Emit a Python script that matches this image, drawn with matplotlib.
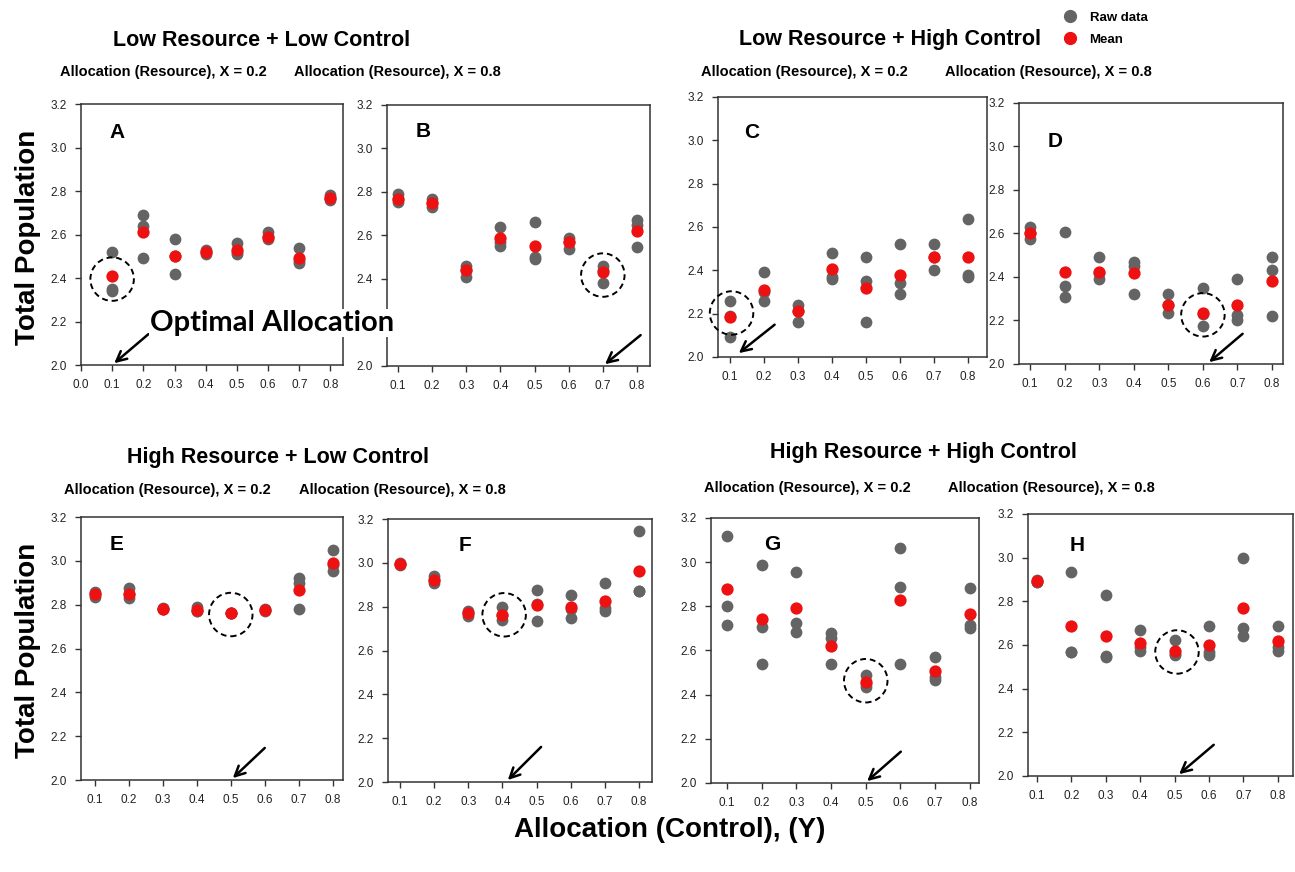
import numpy as np
import matplotlib
matplotlib.use("Agg")
import matplotlib.pyplot as plt
from matplotlib.lines import Line2D

plt.rcParams['font.family'] = ['Liberation Sans', 'DejaVu Sans']

# x levels: allocation to control (Y)
y_alloc = [0.1, 0.2, 0.3, 0.4, 0.5, 0.6, 0.7, 0.8]

# raw replicate values per Y level and their means
raw_A = [[2.52, 2.35, 2.34], [2.69, 2.64, 2.49], [2.58, 2.50, 2.42], [2.53, 2.51, 2.52],
         [2.56, 2.51, 2.52], [2.61, 2.58, 2.59], [2.54, 2.47, 2.48], [2.78, 2.76, 2.77]]
mean_A = [2.41, 2.61, 2.50, 2.52, 2.53, 2.59, 2.49, 2.77]

raw_B = [[2.79, 2.755, 2.77], [2.77, 2.73, 2.75], [2.46, 2.41, 2.44], [2.64, 2.55, 2.57],
         [2.66, 2.50, 2.49], [2.59, 2.54, 2.57], [2.46, 2.38, 2.44], [2.67, 2.65, 2.545]]
mean_B = [2.77, 2.75, 2.44, 2.59, 2.55, 2.57, 2.43, 2.62]

raw_C = [[2.26, 2.09, 2.19], [2.39, 2.26, 2.30], [2.24, 2.16, 2.21], [2.48, 2.37, 2.36],
         [2.46, 2.35, 2.16], [2.52, 2.34, 2.29], [2.52, 2.40, 2.46], [2.635, 2.38, 2.37]]
mean_C = [2.185, 2.31, 2.21, 2.405, 2.32, 2.38, 2.46, 2.46]

raw_D = [[2.63, 2.575, 2.60], [2.605, 2.36, 2.31], [2.49, 2.39, 2.42], [2.47, 2.32, 2.45],
         [2.32, 2.235, 2.27], [2.35, 2.175, 2.23], [2.39, 2.225, 2.20], [2.49, 2.43, 2.22]]
mean_D = [2.60, 2.425, 2.425, 2.42, 2.27, 2.233, 2.27, 2.38]

raw_E = [[2.86, 2.835, 2.85], [2.877, 2.83, 2.85], [2.786, 2.78, 2.78], [2.79, 2.77, 2.77],
         [2.76, 2.76, 2.76], [2.78, 2.775, 2.77], [2.92, 2.90, 2.78], [3.05, 2.955, 2.98]]
mean_E = [2.85, 2.85, 2.78, 2.775, 2.76, 2.775, 2.865, 2.99]

raw_F = [[3.00, 2.99, 2.995], [2.94, 2.91, 2.92], [2.78, 2.756, 2.77], [2.80, 2.74, 2.76],
         [2.875, 2.733, 2.81], [2.855, 2.75, 2.79], [2.91, 2.78, 2.795], [3.147, 2.87, 2.87]]
mean_F = [2.995, 2.923, 2.771, 2.76, 2.806, 2.798, 2.827, 2.961]

raw_G = [[3.12, 2.80, 2.716], [2.986, 2.708, 2.54], [2.956, 2.726, 2.685], [2.68, 2.655, 2.54],
         [2.49, 2.436, 2.45], [3.064, 2.886, 2.54], [2.572, 2.466, 2.48], [2.885, 2.716, 2.70]]
mean_G = [2.879, 2.744, 2.791, 2.622, 2.458, 2.829, 2.507, 2.766]

raw_H = [[2.896, 2.89, 2.89], [2.932, 2.568, 2.57], [2.827, 2.545, 2.55], [2.67, 2.571, 2.59],
         [2.625, 2.556, 2.56], [2.688, 2.556, 2.57], [3.00, 2.678, 2.64], [2.685, 2.571, 2.59]]
mean_H = [2.891, 2.688, 2.64, 2.609, 2.571, 2.602, 2.769, 2.617]

# optimal allocation: circled point (x, y) and arrow (tip, tail)
optimal = {
    'A': (0.1, 2.395), 'B': (0.7, 2.418), 'C': (0.105, 2.203), 'D': (0.6, 2.226),
    'E': (0.5, 2.755), 'F': (0.405, 2.763), 'G': (0.5, 2.463), 'H': (0.507, 2.568),
}
arrows = {
    'A': ((0.1, 2.0), (0.223, 2.15)), 'B': ((0.7, 2.0), (0.817, 2.15)),
    'C': ((0.12, 2.01), (0.238, 2.157)), 'D': ((0.612, 2.0), (0.721, 2.147)),
    'E': ((0.5, 2.0), (0.606, 2.155)), 'F': ((0.41, 2.0), (0.519, 2.169)),
    'G': ((0.498, 2.0), (0.607, 2.15)), 'H': ((0.507, 2.0), (0.62, 2.151)),
}

panels = {'A': (raw_A, mean_A), 'B': (raw_B, mean_B), 'C': (raw_C, mean_C), 'D': (raw_D, mean_D),
          'E': (raw_E, mean_E), 'F': (raw_F, mean_F), 'G': (raw_G, mean_G), 'H': (raw_H, mean_H)}

# axes rectangles in figure fraction, x limits, letter position
layout = {
    'A': ([0.0625, 0.5814, 0.2023, 0.2993], (0.0, 0.84), (0.137, 0.889)),
    'B': ([0.2988, 0.5803, 0.2031, 0.2993], (0.068, 0.838), (0.137, 0.897)),
    'C': ([0.5544, 0.5906, 0.2077, 0.2982], (0.065, 0.856), (0.126, 0.862)),
    'D': ([0.7869, 0.5826, 0.2039, 0.2993], (0.068, 0.832), (0.136, 0.851)),
    'E': ([0.0625, 0.1055, 0.2023, 0.3016], (0.059, 0.830), (0.137, 0.894)),
    'F': ([0.2996, 0.1032, 0.2039, 0.3016], (0.065, 0.838), (0.290, 0.900)),
    'G': ([0.5490, 0.1021, 0.2069, 0.3039], (0.054, 0.826), (0.230, 0.898)),
    'H': ([0.7938, 0.1101, 0.2046, 0.3005], (0.074, 0.844), (0.185, 0.880)),
}

y_ticks = [2.0, 2.2, 2.4, 2.6, 2.8, 3.0, 3.2]

GRAY = '#646464'
RED = '#ee1111'

fig = plt.figure(figsize=(12.95, 8.72), dpi=100)

for key, (raw, mean) in panels.items():
    rect, xlim, letter_pos = layout[key]
    ax = fig.add_axes(rect)
    for xv, vals in zip(y_alloc, raw):
        ax.scatter([xv] * len(vals), vals, s=72, color=GRAY, zorder=2, linewidths=0, clip_on=False)
    ax.scatter(y_alloc, mean, s=78, color=RED, zorder=3, linewidths=0, clip_on=False)
    cx, cy = optimal[key]
    ax.scatter([cx], [cy], s=980, facecolors='none', edgecolors='black',
               linewidths=1.4, linestyle=(0, (3, 2)), zorder=4, clip_on=False)
    tip, tail = arrows[key]
    ax.annotate('', xy=tip, xytext=tail, annotation_clip=False,
                arrowprops=dict(arrowstyle='->', lw=1.8, color='black', mutation_scale=18))
    ax.set_xlim(*xlim)
    ax.set_ylim(2.0, 3.2)
    if key == 'A':
        ax.set_xticks([0.0] + y_alloc)
    else:
        ax.set_xticks(y_alloc)
    ax.set_xticklabels(['%.1f' % t for t in ax.get_xticks()])
    ax.set_yticks(y_ticks)
    ylabels = ['%.1f' % t for t in y_ticks]
    if key == 'B':
        # hidden under the "Optimal Allocation" note in the original
        ylabels[1] = ''
    ax.set_yticklabels(ylabels)
    ax.tick_params(direction='out', length=4, width=1, labelsize=8.5, colors='#333333',
                   labelcolor='#222222', pad=6)
    for sp in ax.spines.values():
        sp.set_color('#333333')
        sp.set_linewidth(1.1)
    ax.text(letter_pos[0], letter_pos[1], key, transform=ax.transAxes, fontsize=15,
            fontweight='bold', ha='center', va='center')

# group titles and subtitles (pixel positions converted to figure fraction)
W, H = 1295.0, 872.0
def ftext(x, y, s, **kw):
    fig.text(x / W, 1 - y / H, s, ha='center', va='center', **kw)

titles = [(262, 40, 'Low Resource + Low Control'), (890, 40, 'Low Resource + High Control'),
          (278, 457, 'High Resource + Low Control'), (923, 452, 'High Resource + High Control')]
for x, y, s in titles:
    ftext(x, y, s, fontsize=15.5, fontweight='bold')

subtitles = [(163, 72, 0.2), (397, 72, 0.8), (804, 72, 0.2), (1048, 72, 0.8),
             (167, 490, 0.2), (402, 490, 0.8), (807, 488, 0.2), (1051, 488, 0.8)]
for x, y, v in subtitles:
    ftext(x, y, 'Allocation (Resource), X = %.1f' % v, fontsize=10.5, fontweight='bold')

ftext(28, 237, 'Total Population', fontsize=20, fontweight='bold', rotation=90)
ftext(28, 650, 'Total Population', fontsize=20, fontweight='bold', rotation=90)
ftext(670, 830, 'Allocation (Control), (Y)', fontsize=20, fontweight='bold')
fig.text(150 / W, 1 - 323 / H, 'Optimal Allocation', ha='left', va='center',
         fontsize=21, fontweight='bold', family=['Lato', 'DejaVu Sans'], zorder=10,
         bbox=dict(facecolor='white', edgecolor='none', pad=0.5))

handles = [Line2D([], [], marker='o', linestyle='', color=GRAY, markersize=8.5),
           Line2D([], [], marker='o', linestyle='', color=RED, markersize=8.5)]
fig.legend(handles, ['Raw data', 'Mean'], loc='upper left', bbox_to_anchor=(1050 / W, 1 - 0 / H),
           frameon=False, handletextpad=0.9, labelspacing=0.7, handlelength=1.2,
           prop={'size': 9.5, 'weight': 'bold'})

fig.savefig('out.png', dpi=100)
